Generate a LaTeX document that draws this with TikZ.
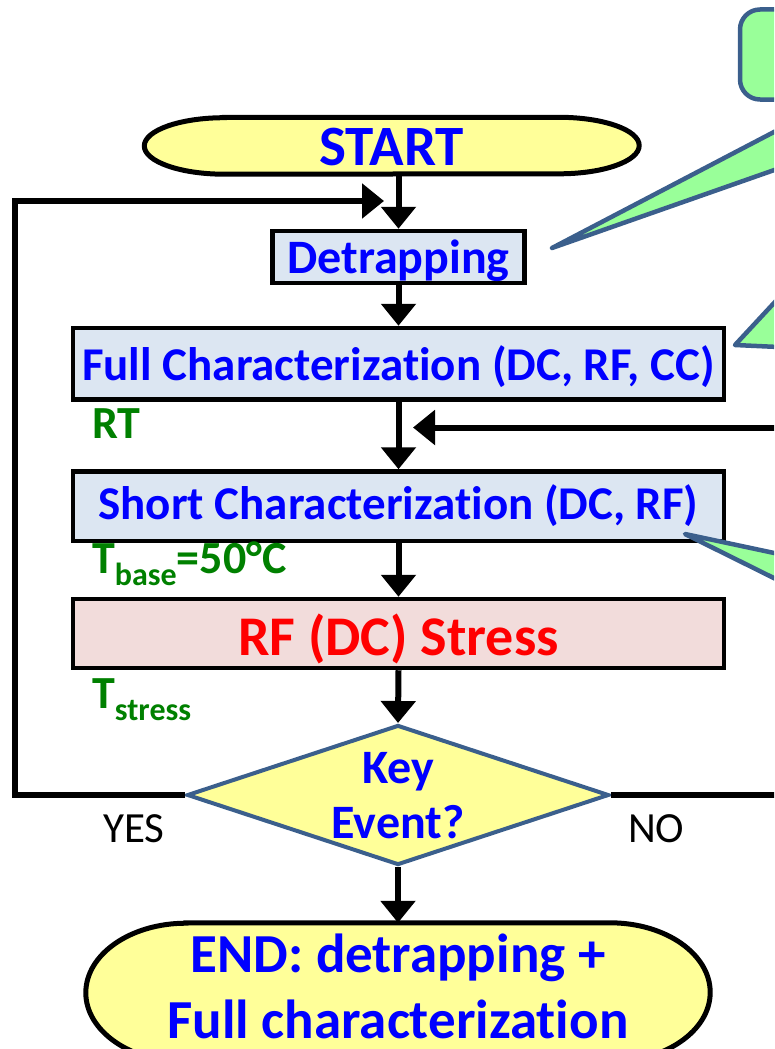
\documentclass[tikz,border=0pt]{standalone}
\usepackage{fontspec}
\setmainfont{Carlito}[Ligatures=NoCommon]
\usetikzlibrary{arrows.meta,calc,backgrounds,shapes.geometric}

\definecolor{termfill}{HTML}{FFFF99}
\definecolor{boxfill}{HTML}{DCE6F2}
\definecolor{stressfill}{HTML}{F2DCDB}
\definecolor{notefill}{HTML}{99FF99}
\definecolor{noteline}{HTML}{3B5F8C}
\definecolor{txtblue}{HTML}{0000FF}
\definecolor{txtred}{HTML}{FF0000}
\definecolor{txtgreen}{HTML}{008000}

% outline of a terminator: straight top and bottom, elliptical ends
\newcommand\termoutline[3]{%
  \draw[termline] ($(#1.north west)+(#2,0)$) -- ($(#1.north east)+(-#2,0)$)
    arc[start angle=-90,end angle=90,x radius=#2,y radius=#3]
    -- ($(#1.south west)+(#2,0)$)
    arc[start angle=90,end angle=270,x radius=#2,y radius=#3] -- cycle;}

\begin{document}
\begin{tikzpicture}[x=1pt,y=-1pt,
  box/.style={draw=black,line width=4.5pt,inner sep=0pt,text=txtblue,
    text depth=0pt,font=\bfseries\fontsize{47}{50}\selectfont},
  termtext/.style={inner sep=0pt,text=txtblue},
  termline/.style={draw=black,fill=termfill,line width=5pt},
  flow/.style={line width=6pt,line join=miter,-{Triangle[width=34pt,length=22pt]}},
  note/.style={draw=noteline,fill=notefill,line width=4.5pt,line join=round},
  lbl/.style={inner sep=0pt,text=txtgreen,font=\bfseries\fontsize{46}{50}\selectfont},
  answer/.style={inner sep=0pt,font=\fontsize{43}{46}\selectfont},
]
\useasboundingbox (0,0) rectangle (774,1049);
\clip (0,0) rectangle (774,1049);

% terminators
\node[termtext,minimum width=494.5pt,minimum height=56.5pt,
  text height=38.5pt,text depth=0pt,
  font=\bfseries\fontsize{57}{60}\selectfont] (start) at (391.75,145.75) {START};
\node[inner sep=0pt,minimum width=624pt,minimum height=139pt] (end) at (398,992.5) {};
\node[termtext,align=center,text height=132pt,text depth=0pt,
  font=\bfseries\fontsize{55}{66}\selectfont]
  (endtext) at (398,972) {END: detrapping +\\Full characterization};
\begin{scope}[on background layer]
  \termoutline{start}{80}{28.25}
  \termoutline{end}{100}{69.5}
\end{scope}

% process boxes
\node[box,fill=boxfill,minimum width=252pt,minimum height=52pt,text height=32pt,
  font=\bfseries\fontsize{48}{50}\selectfont] (det) at (398.5,257) {Detrapping};
\node[box,fill=boxfill,minimum width=651pt,minimum height=71.5pt,text height=32.5pt]
  (full) at (398.5,363.75) {Full Characterization (DC, RF, CC)};
\node[box,fill=boxfill,minimum width=651pt,minimum height=69.5pt,text height=25.5pt]
  (short) at (398.5,506.25) {Short Characterization (DC, RF)};
\node[box,fill=stressfill,text=txtred,minimum width=651pt,minimum height=69pt,
  text height=43pt,font=\bfseries\fontsize{56}{60}\selectfont] (stress)
  at (398.5,633.5) {RF (DC) Stress};

% decision
\node[diamond,draw=noteline,line width=4pt,fill=termfill,inner sep=0pt,
  minimum width=422pt,minimum height=140pt] (dia) at (398,795) {};
\node[termtext,align=center,text height=110pt,text depth=0pt,
  font=\bfseries\fontsize{48}{55}\selectfont]
  (diatext) at (398,783) {Key\\Event?};

% temperature labels
\node[lbl,anchor=base west] (rt) at (92,438) {RT};
\node[lbl,anchor=base west] (tbase) at (92,573)
  {T\raisebox{-12pt}{\fontsize{32}{32}\selectfont base}=50°C};
\node[lbl,anchor=base west] (tstress) at (92,708)
  {T\raisebox{-12pt}{\fontsize{32}{32}\selectfont stress}};

% answers
\node[answer,anchor=base west] (yes) at (103,842) {YES};
\node[answer,anchor=base west] (no) at (628,842) {NO};

% flow
\coordinate (loopin) at (384,201);
\coordinate (noin) at (413,427.5);
\draw[flow] (det.north |- start.south) -- (det.north);
\draw[flow] (det.south) -- (full.north);
\draw[flow] (full.south) -- (short.north);
\draw[flow] (short.south) -- (stress.north);
\draw[flow] (stress.south) -- (dia.north);
\draw[flow] (dia.south) -- (end.north);
\draw[flow] (dia.west) -| (15,201) -- (loopin);
\draw[flow] (dia.east) -| (840,427.5) -- (noin);

% callouts
\filldraw[note,rounded corners=20pt] (740,9.5) rectangle (840,99.5);
\filldraw[note] (552,248) -- (800,118.4) -- (800,161) -- cycle;
\filldraw[note] (735,345) -- (800,275) -- (800,348) -- cycle;
\filldraw[note] (685,534) -- (800,558.5) -- (800,591) -- cycle;
\end{tikzpicture}
\end{document}
